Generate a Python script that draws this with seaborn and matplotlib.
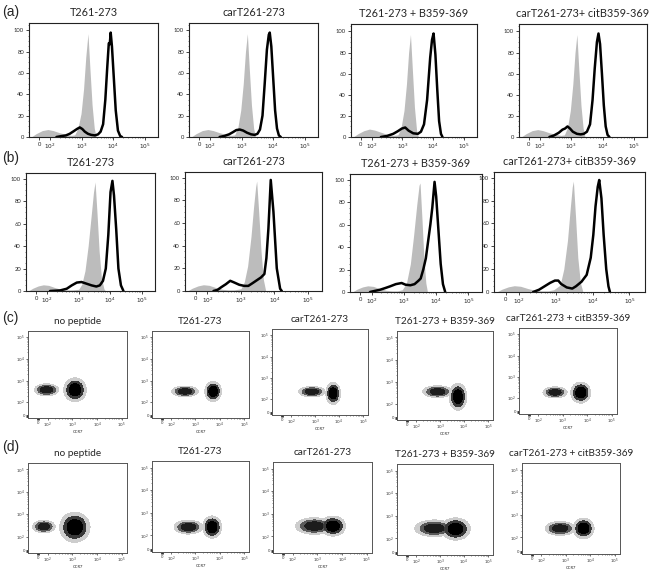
import numpy as np
import pandas as pd
import matplotlib
matplotlib.use('Agg')
import matplotlib.pyplot as plt
import seaborn as sns
from matplotlib.colors import ListedColormap
from matplotlib.ticker import AutoMinorLocator

sns.set_style('ticks')
plt.rcParams['font.family'] = ['Lato', 'DejaVu Sans']
plt.rcParams['mathtext.fontset'] = 'dejavusans'

W, H = 650, 571

# panel titles
titles_ab = ['T261-273', 'carT261-273', 'T261-273 + B359-369', 'carT261-273+ citB359-369']
titles_cd = ['no peptide', 'T261-273', 'carT261-273', 'T261-273 + B359-369', 'carT261-273 + citB359-369']

# tick labels (positions in decade units of the biexponential axis)
dec_labels = ['0', '$10^2$', '$10^3$', '$10^4$', '$10^5$']
hist_xticks = [1.65, 2, 3, 4, 5]
flow_xticks = [1.62, 2, 3, 4, 5]
flow_yticks = [1.38, 2, 3, 4, 5]
hist_yticks = [0, 20, 40, 60, 80, 100]

# ---- histogram data (x in decades, y = % of max) ----
# row (a)
a1_gray_x = [1.4, 1.55, 1.75, 1.93, 2.1, 2.3, 2.5, 2.67, 2.78, 2.88, 2.98, 3.06, 3.13, 3.2, 3.26, 3.33, 3.4, 3.46]
a1_gray_y = [0, 3, 6, 7, 6, 4, 2.5, 1.5, 2, 8, 22, 45, 75, 97, 65, 30, 8, 0]
a1_black_x = [2.2, 2.35, 2.5, 2.62, 2.75, 2.85, 2.94, 3.02, 3.1, 3.2, 3.3, 3.42, 3.52, 3.6, 3.68, 3.75, 3.81,
              3.86, 3.89, 3.92, 3.96, 4.02, 4.08, 4.15, 4.22, 4.28]
a1_black_y = [0, 0.8, 1.5, 3, 5.5, 7.5, 9, 7.5, 5, 3, 2, 1.5, 2.5, 5, 12, 35, 65, 88, 87, 98, 85, 55, 25, 6, 1, 0]

a2_gray_x = [1.4, 1.55, 1.75, 1.93, 2.1, 2.3, 2.5, 2.67, 2.78, 2.88, 2.97, 3.05, 3.12, 3.18, 3.24, 3.31, 3.38, 3.44]
a2_gray_y = [0, 3, 6, 7, 6, 4, 2.5, 1.5, 2, 9, 25, 50, 80, 97, 65, 30, 8, 0]
a2_black_x = [2.3, 2.45, 2.6, 2.72, 2.83, 2.94, 3.05, 3.17, 3.3, 3.41, 3.5, 3.58, 3.66, 3.73, 3.8, 3.86,
              3.89, 3.94, 4.0, 4.06, 4.12, 4.18, 4.24]
a2_black_y = [0, 1, 2.5, 4.5, 6.5, 7, 6, 4, 2.5, 2, 3, 7, 20, 50, 82, 96, 98, 85, 55, 25, 8, 1.5, 0]

a3_gray_x = [1.4, 1.55, 1.75, 1.93, 2.1, 2.3, 2.5, 2.7, 2.85, 2.95, 3.05, 3.13, 3.2, 3.26, 3.32, 3.39, 3.46, 3.52]
a3_gray_y = [0, 3, 6, 7.5, 6.5, 4.5, 2.5, 1.5, 2, 8, 25, 50, 80, 97, 65, 28, 6, 0]
a3_black_x = [2.3, 2.5, 2.7, 2.85, 2.98, 3.09, 3.2, 3.35, 3.5, 3.6, 3.7, 3.8, 3.9, 3.96, 4.01, 4.07,
              4.13, 4.19, 4.25, 4.3]
a3_black_y = [0, 1, 3, 5.5, 8, 9, 6, 3.5, 3, 5, 12, 35, 75, 92, 98, 78, 45, 15, 3, 0]

a4_gray_x = [1.4, 1.55, 1.75, 1.93, 2.1, 2.3, 2.5, 2.67, 2.78, 2.88, 2.97, 3.05, 3.12, 3.18, 3.24, 3.31, 3.38, 3.44]
a4_gray_y = [0, 3, 6, 7, 6, 4, 2.5, 1.5, 2, 9, 25, 50, 80, 97, 65, 30, 8, 0]
a4_black_x = [2.3, 2.45, 2.6, 2.72, 2.8, 2.88, 2.96, 3.05, 3.18, 3.3, 3.4, 3.5, 3.6, 3.68, 3.75, 3.82,
              3.87, 3.92, 3.98, 4.04, 4.1, 4.16, 4.22]
a4_black_y = [0, 1.5, 4, 7, 8, 10, 8, 5, 3, 2.5, 3, 5, 12, 35, 65, 90, 98, 88, 60, 30, 10, 2, 0]

# row (b)
b1_gray_x = [1.4, 1.55, 1.72, 1.88, 2.05, 2.25, 2.45, 2.62, 2.8, 3.0, 3.1, 3.2, 3.3, 3.4, 3.47, 3.52, 3.58,
             3.65, 3.72, 3.8, 3.85]
b1_gray_y = [0, 2.5, 4.5, 5.5, 5, 3, 1.5, 1, 1, 1.5, 6, 18, 40, 68, 88, 97, 70, 35, 12, 2, 0]
b1_black_x = [2.09, 2.41, 2.62, 2.78, 2.94, 3.09, 3.25, 3.41, 3.56, 3.67, 3.77, 3.86, 3.94, 4.01, 4.07,
              4.12, 4.19, 4.26, 4.34, 4.42]
b1_black_y = [0, 0.5, 2, 5, 7.5, 8, 6.5, 5, 4, 5, 9, 20, 50, 88, 98, 85, 55, 20, 5, 0]

b2_gray_x = [1.4, 1.55, 1.72, 1.88, 2.05, 2.25, 2.45, 2.62, 2.8, 3.0, 3.1, 3.2, 3.3, 3.38, 3.44, 3.47, 3.53,
             3.6, 3.67, 3.74]
b2_gray_y = [0, 2.5, 4.5, 5.5, 5, 3, 1.5, 1, 1, 2, 8, 22, 48, 75, 92, 97, 70, 35, 10, 0]
b2_black_x = [2.18, 2.3, 2.42, 2.55, 2.68, 2.8, 2.95, 3.1, 3.22, 3.35, 3.5, 3.6, 3.7, 3.76, 3.82, 3.89,
              3.97, 4.07, 4.17, 4.22]
b2_black_y = [0, 1, 3.5, 6, 9, 7.5, 5.5, 4.5, 4.5, 7, 10, 12, 15, 29, 55, 98, 70, 20, 2, 0]

b3_gray_x = [1.4, 1.55, 1.72, 1.88, 2.05, 2.25, 2.45, 2.62, 2.8, 2.95, 3.08, 3.2, 3.3, 3.4, 3.47, 3.5, 3.56,
             3.62, 3.68, 3.73]
b3_gray_y = [0, 2.5, 4.5, 5.5, 5, 3, 1.5, 1, 1, 2, 8, 25, 50, 78, 95, 97, 65, 30, 8, 0]
b3_black_x = [1.95, 2.1, 2.26, 2.42, 2.57, 2.75, 2.93, 3.05, 3.2, 3.33, 3.45, 3.52, 3.6, 3.68, 3.75, 3.82,
              3.88, 3.95, 4.0, 4.07, 4.14, 4.21, 4.28]
b3_black_y = [0, 1, 2, 3.5, 5, 7, 8, 6.5, 6, 7, 10, 12, 20, 30, 45, 60, 75, 98, 85, 55, 25, 7, 0]

b4_gray_x = [1.4, 1.55, 1.72, 1.88, 2.05, 2.25, 2.45, 2.62, 2.8, 2.95, 3.12, 3.22, 3.32, 3.4, 3.45, 3.48,
             3.54, 3.6, 3.67, 3.74]
b4_gray_y = [0, 2.5, 4.5, 5.5, 5, 3, 1.5, 1, 1, 2, 6, 20, 45, 75, 92, 97, 65, 30, 8, 0]
b4_black_x = [2.39, 2.55, 2.7, 2.85, 2.98, 3.07, 3.15, 3.3, 3.45, 3.55, 3.7, 3.84, 3.95, 4.02, 4.08, 4.14,
              4.18, 4.24, 4.3, 4.37, 4.43, 4.47]
b4_black_y = [0, 2, 5, 8, 10, 10, 7, 4, 3, 5, 9, 15, 30, 50, 75, 92, 98, 82, 50, 20, 5, 0]

# ---- dot plot clusters: (x centre, y centre, x half-width, y half-width, density) in decades ----
c1_clusters = [(1.96, 2.57, 0.40, 0.23, 0.7), (3.11, 2.57, 0.37, 0.45, 1.0)]
c2_clusters = [(2.57, 2.50, 0.45, 0.20, 0.6), (3.73, 2.50, 0.28, 0.38, 1.0)]
c3_clusters = [(2.87, 2.36, 0.45, 0.20, 0.7), (3.76, 2.28, 0.25, 0.42, 1.0)]
c4_clusters = [(2.90, 2.55, 0.50, 0.22, 0.8), (3.75, 2.32, 0.30, 0.50, 1.0)]
c5_clusters = [(2.68, 2.28, 0.40, 0.21, 0.8), (3.73, 2.27, 0.33, 0.40, 1.0)]
d1_clusters = [(1.85, 2.45, 0.37, 0.23, 0.8), (3.10, 2.42, 0.50, 0.55, 1.0)]
d2_clusters = [(2.71, 2.37, 0.48, 0.25, 0.7), (3.69, 2.37, 0.32, 0.40, 1.0)]
d3_clusters = [(2.88, 2.46, 0.62, 0.30, 0.8), (3.63, 2.46, 0.42, 0.36, 1.0)]
d4_clusters = [(2.76, 2.45, 0.66, 0.30, 0.8), (3.65, 2.42, 0.50, 0.40, 1.0)]
d5_clusters = [(2.77, 2.40, 0.50, 0.25, 0.8), (3.72, 2.40, 0.35, 0.37, 1.0)]

# panel boxes in pixels: left, top, right, bottom
boxes_a = [(29, 23, 158, 137), (189, 23, 318, 137), (351, 24, 477, 137), (519, 24, 647, 137)]
boxes_b = [(26, 173, 155, 291), (185, 172, 322, 291), (350, 174, 482, 292), (494, 172, 645, 292)]
boxes_c = [(28, 331, 127, 418), (152, 331, 249, 418), (272, 329, 368, 415), (397, 331, 493, 420), (519, 328, 617, 414)]
boxes_d = [(28, 463, 127, 553), (152, 461, 249, 552), (273, 462, 372, 553), (397, 464, 493, 555), (522, 463, 620, 554)]

minor_pos = [np.log10(k) + d for d in range(2, 5) for k in range(2, 10)]

halo_cmap = ListedColormap(['#cdcdcd'])
core_cmap = ListedColormap(['#383838', '#000000'])
soft_cmap = ListedColormap(['#5a5a5a', '#1c1c1c'])

fig = plt.figure(figsize=(W / 100, H / 100), dpi=100)


def make_ax(box):
    l, t, r, b = box
    return fig.add_axes([l / W, 1 - b / H, (r - l) / W, (b - t) / H])


def hist_panel(box, title, gx, gy, bx, by, ytop):
    ax = make_ax(box)
    ax.fill_between(gx, gy, 0, color='#bcbcbc', lw=0)
    sns.lineplot(x=bx, y=by, color='black', lw=1.8, estimator=None, ax=ax)
    ax.set_xlim(1.33, 5.42)
    ax.set_ylim(0, ytop)
    ax.set_xticks(hist_xticks)
    ax.set_xticklabels(dec_labels, fontsize=4.2)
    ax.set_xticks(minor_pos, minor=True)
    ax.set_yticks(hist_yticks)
    ax.set_yticklabels([str(v) for v in hist_yticks], fontsize=4.2)
    ax.yaxis.set_minor_locator(AutoMinorLocator(4))
    ax.tick_params(which='major', length=2, width=0.6, pad=1.5)
    ax.tick_params(which='minor', length=1, width=0.4)
    for s in ax.spines.values():
        s.set_linewidth(0.8)
        s.set_color('#222222')
    ax.set_title(title, fontsize=7.8, pad=5)
    return ax


def anchors(c):
    # centre, four edge points and four diagonal points of the cluster
    cx, cy, hx, hy, dens = c
    ax_, ay_ = 0.62 * hx, 0.62 * hy
    dx_, dy_ = 0.44 * hx, 0.44 * hy
    return pd.DataFrame({'x': [cx, cx - ax_, cx + ax_, cx, cx, cx - dx_, cx + dx_, cx - dx_, cx + dx_],
                         'y': [cy, cy, cy, cy - ay_, cy + ay_, cy - dy_, cy - dy_, cy + dy_, cy + dy_]})


def flow_panel(box, title, clusters):
    ax = make_ax(box)
    order = sorted(clusters, key=lambda c: c[4])
    # halo first, then the dense cores on top
    for c in order:
        sns.kdeplot(data=anchors(c), x='x', y='y', fill=True, levels=[0.03, 1.0], cmap=halo_cmap, ax=ax)
    for c in order:
        cm = core_cmap if c[4] >= 0.9 else soft_cmap
        sns.kdeplot(data=anchors(c), x='x', y='y', fill=True, levels=[0.22, 0.55, 1.0], cmap=cm, ax=ax)
    ax.set_xlim(1.21, 5.21)
    ax.set_ylim(1.27, 5.29)
    ax.set_xticks(flow_xticks)
    ax.set_xticklabels(dec_labels, fontsize=3.0)
    ax.set_yticks(flow_yticks)
    ax.set_yticklabels(dec_labels, fontsize=3.0)
    ax.set_xticks(minor_pos, minor=True)
    ax.set_yticks(minor_pos, minor=True)
    ax.tick_params(which='major', length=1.5, width=0.5, pad=0.6, colors='#333333')
    ax.tick_params(which='minor', length=0.9, width=0.4, colors='#333333')
    ax.xaxis.get_major_ticks()[0].tick1line.set_markeredgewidth(2)
    ax.yaxis.get_major_ticks()[0].tick1line.set_markeredgewidth(2)
    ax.set_xlabel('CCR7', fontsize=3.0, labelpad=0)
    ax.set_ylabel('')
    for s in ax.spines.values():
        s.set_linewidth(0.7)
        s.set_color('#555555')
    ax.set_title(title, fontsize=7.2, pad=5)
    return ax


hist_a = [(a1_gray_x, a1_gray_y, a1_black_x, a1_black_y), (a2_gray_x, a2_gray_y, a2_black_x, a2_black_y),
          (a3_gray_x, a3_gray_y, a3_black_x, a3_black_y), (a4_gray_x, a4_gray_y, a4_black_x, a4_black_y)]
hist_b = [(b1_gray_x, b1_gray_y, b1_black_x, b1_black_y), (b2_gray_x, b2_gray_y, b2_black_x, b2_black_y),
          (b3_gray_x, b3_gray_y, b3_black_x, b3_black_y), (b4_gray_x, b4_gray_y, b4_black_x, b4_black_y)]

for box, title, h in zip(boxes_a, titles_ab, hist_a):
    hist_panel(box, title, *h, ytop=107)
for box, title, h in zip(boxes_b, titles_ab, hist_b):
    hist_panel(box, title, *h, ytop=105)

for box, title, cl in zip(boxes_c, titles_cd, [c1_clusters, c2_clusters, c3_clusters, c4_clusters, c5_clusters]):
    flow_panel(box, title, cl)
for box, title, cl in zip(boxes_d, titles_cd, [d1_clusters, d2_clusters, d3_clusters, d4_clusters, d5_clusters]):
    flow_panel(box, title, cl)

# row labels
for lab, y in [('(a)', 12), ('(b)', 158), ('(c)', 318), ('(d)', 447)]:
    fig.text(2 / W, 1 - y / H, lab, fontsize=10, va='center', ha='left', family=['Liberation Sans', 'DejaVu Sans'])

fig.savefig('out.png', dpi=100)
